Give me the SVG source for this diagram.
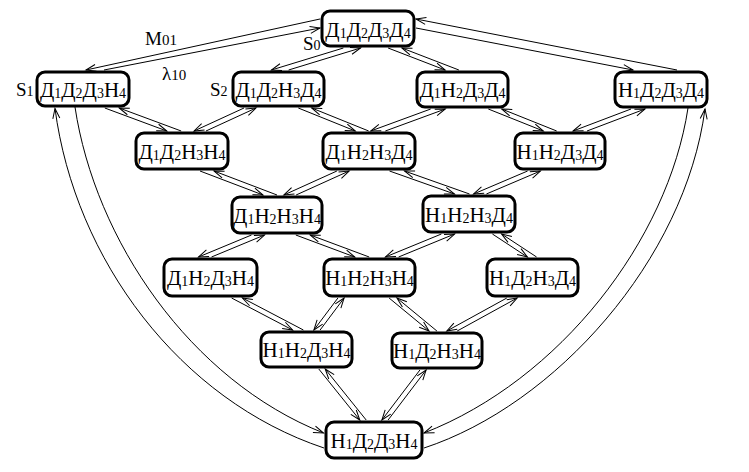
<svg xmlns="http://www.w3.org/2000/svg" width="749" height="472" viewBox="0 0 749 472">
<defs>
<marker id="ah" markerWidth="14" markerHeight="10" refX="0" refY="0" viewBox="-12 -5 14 10" orient="auto" markerUnits="userSpaceOnUse">
<path d="M-10,-3.5 L0,0 L-10,3.5" fill="none" stroke="#000" stroke-width="1"/>
</marker>
</defs>
<style>
.e{stroke:#000;stroke-width:1;fill:none;marker-end:url(#ah)}
.box{fill:#fff;stroke:#000;stroke-width:3}
.t{font-family:"Liberation Serif","Times New Roman",serif;font-size:21px;fill:#000;text-anchor:middle}
.s{font-size:14px}
.lb{font-family:"Liberation Serif","Times New Roman",serif;font-size:19px;fill:#000}
</style>
<rect width="749" height="472" fill="#fff"/>
<g id="connectors">
<line class="e" x1="320" y1="19" x2="86" y2="70"/>
<line class="e" x1="104" y1="70" x2="320" y2="28"/>
<line class="e" x1="677" y1="70" x2="416" y2="19"/>
<line class="e" x1="416" y1="28" x2="633" y2="70"/>
<line class="e" x1="343.4" y1="48" x2="271.4" y2="70"/>
<line class="e" x1="288.6" y1="70" x2="360.6" y2="48"/>
<line class="e" x1="388.1" y1="48" x2="445.1" y2="70"/>
<line class="e" x1="458.9" y1="70" x2="401.9" y2="48"/>
<line class="e" x1="104.8" y1="108" x2="166.8" y2="131"/>
<line class="e" x1="181.2" y1="131" x2="119.2" y2="108"/>
<line class="e" x1="244" y1="108" x2="194" y2="131"/>
<line class="e" x1="206" y1="131" x2="256" y2="108"/>
<line class="e" x1="298.3" y1="108" x2="355.3" y2="131"/>
<line class="e" x1="368.7" y1="131" x2="311.7" y2="108"/>
<line class="e" x1="430.7" y1="109" x2="370.7" y2="131"/>
<line class="e" x1="385.3" y1="131" x2="445.3" y2="109"/>
<line class="e" x1="488.3" y1="109" x2="543.3" y2="131"/>
<line class="e" x1="556.7" y1="131" x2="501.7" y2="109"/>
<line class="e" x1="631" y1="109" x2="573" y2="131"/>
<line class="e" x1="587" y1="131" x2="645" y2="109"/>
<line class="e" x1="200" y1="171" x2="263" y2="195"/>
<line class="e" x1="277" y1="195" x2="214" y2="171"/>
<line class="e" x1="336.9" y1="171" x2="283.9" y2="195"/>
<line class="e" x1="296.1" y1="195" x2="349.1" y2="171"/>
<line class="e" x1="389.5" y1="171" x2="454.5" y2="194"/>
<line class="e" x1="469.5" y1="194" x2="404.5" y2="171"/>
<line class="e" x1="527.6" y1="171" x2="473.6" y2="194"/>
<line class="e" x1="486.4" y1="194" x2="540.4" y2="171"/>
<line class="e" x1="251.5" y1="235" x2="198.5" y2="257"/>
<line class="e" x1="211.5" y1="257" x2="264.5" y2="235"/>
<line class="e" x1="295.8" y1="235" x2="354.8" y2="257"/>
<line class="e" x1="369.2" y1="257" x2="310.2" y2="235"/>
<line class="e" x1="441.4" y1="234" x2="385.4" y2="257"/>
<line class="e" x1="398.6" y1="257" x2="454.6" y2="234"/>
<line class="e" x1="492.4" y1="234" x2="527.4" y2="257"/>
<line class="e" x1="536.6" y1="257" x2="501.6" y2="234"/>
<line class="e" x1="231.6" y1="298" x2="292.6" y2="330"/>
<line class="e" x1="303.4" y1="330" x2="242.4" y2="298"/>
<line class="e" x1="337.9" y1="298" x2="313.9" y2="330"/>
<line class="e" x1="320.1" y1="330" x2="344.1" y2="298"/>
<line class="e" x1="389.1" y1="298" x2="429.1" y2="331"/>
<line class="e" x1="436.9" y1="331" x2="396.9" y2="298"/>
<line class="e" x1="506.8" y1="298" x2="446.8" y2="331"/>
<line class="e" x1="457.2" y1="331" x2="517.2" y2="298"/>
<line class="e" x1="318.8" y1="369" x2="359.8" y2="420"/>
<line class="e" x1="366.2" y1="420" x2="325.2" y2="369"/>
<line class="e" x1="419.9" y1="370" x2="381.9" y2="420"/>
<line class="e" x1="388.1" y1="420" x2="426.1" y2="370"/>
<path class="e" d="M324,448 C180,400 75,260 55,108.5"/>
<path class="e" d="M75,107 C95,240 190,380 323.5,433"/>
<path class="e" d="M688,108 C668,240 560,380 424,433"/>
<path class="e" d="M424,448 C555,405 685,260 705,109"/>
</g>
<g id="labels">
<text class="lb" x="145" y="45">M<tspan font-size="15">01</tspan></text>
<text class="lb" x="162" y="80">λ<tspan font-size="15">10</tspan></text>
<text class="lb" x="303" y="50" font-size="18">S<tspan font-size="14">0</tspan></text>
<text class="lb" x="16" y="96" font-size="18">S<tspan font-size="14">1</tspan></text>
<text class="lb" x="210" y="96" font-size="18">S<tspan font-size="14">2</tspan></text>
</g>
<g id="n0"><rect class="box" x="322" y="11" width="92" height="35" rx="8"/><text class="t" x="368" y="37">Д<tspan class="s" dy="1">1</tspan><tspan dy="-1">Д</tspan><tspan class="s" dy="1">2</tspan><tspan dy="-1">Д</tspan><tspan class="s" dy="1">3</tspan><tspan dy="-1">Д</tspan><tspan class="s" dy="1">4</tspan></text></g>
<g id="n1"><rect class="box" x="37" y="72" width="92" height="34" rx="8"/><text class="t" x="83" y="97">Д<tspan class="s" dy="1">1</tspan><tspan dy="-1">Д</tspan><tspan class="s" dy="1">2</tspan><tspan dy="-1">Д</tspan><tspan class="s" dy="1">3</tspan><tspan dy="-1">Н</tspan><tspan class="s" dy="1">4</tspan></text></g>
<g id="n2"><rect class="box" x="233" y="72" width="91" height="34" rx="8"/><text class="t" x="278.5" y="97">Д<tspan class="s" dy="1">1</tspan><tspan dy="-1">Д</tspan><tspan class="s" dy="1">2</tspan><tspan dy="-1">Н</tspan><tspan class="s" dy="1">3</tspan><tspan dy="-1">Д</tspan><tspan class="s" dy="1">4</tspan></text></g>
<g id="n3"><rect class="box" x="417" y="72" width="91" height="35" rx="8"/><text class="t" x="462.5" y="97">Д<tspan class="s" dy="1">1</tspan><tspan dy="-1">Н</tspan><tspan class="s" dy="1">2</tspan><tspan dy="-1">Д</tspan><tspan class="s" dy="1">3</tspan><tspan dy="-1">Д</tspan><tspan class="s" dy="1">4</tspan></text></g>
<g id="n4"><rect class="box" x="615" y="72" width="92" height="35" rx="8"/><text class="t" x="661" y="97">Н<tspan class="s" dy="1">1</tspan><tspan dy="-1">Д</tspan><tspan class="s" dy="1">2</tspan><tspan dy="-1">Д</tspan><tspan class="s" dy="1">3</tspan><tspan dy="-1">Д</tspan><tspan class="s" dy="1">4</tspan></text></g>
<g id="n5"><rect class="box" x="136" y="133" width="92" height="36" rx="8"/><text class="t" x="182" y="159">Д<tspan class="s" dy="1">1</tspan><tspan dy="-1">Д</tspan><tspan class="s" dy="1">2</tspan><tspan dy="-1">Н</tspan><tspan class="s" dy="1">3</tspan><tspan dy="-1">Н</tspan><tspan class="s" dy="1">4</tspan></text></g>
<g id="n6"><rect class="box" x="323" y="133" width="92" height="36" rx="8"/><text class="t" x="369" y="159">Д<tspan class="s" dy="1">1</tspan><tspan dy="-1">Н</tspan><tspan class="s" dy="1">2</tspan><tspan dy="-1">Н</tspan><tspan class="s" dy="1">3</tspan><tspan dy="-1">Д</tspan><tspan class="s" dy="1">4</tspan></text></g>
<g id="n7"><rect class="box" x="515" y="133" width="90" height="36" rx="8"/><text class="t" x="560" y="159">Н<tspan class="s" dy="1">1</tspan><tspan dy="-1">Н</tspan><tspan class="s" dy="1">2</tspan><tspan dy="-1">Д</tspan><tspan class="s" dy="1">3</tspan><tspan dy="-1">Д</tspan><tspan class="s" dy="1">4</tspan></text></g>
<g id="n8"><rect class="box" x="232" y="197" width="90" height="36" rx="8"/><text class="t" x="277" y="223">Д<tspan class="s" dy="1">1</tspan><tspan dy="-1">Н</tspan><tspan class="s" dy="1">2</tspan><tspan dy="-1">Н</tspan><tspan class="s" dy="1">3</tspan><tspan dy="-1">Н</tspan><tspan class="s" dy="1">4</tspan></text></g>
<g id="n9"><rect class="box" x="423" y="196" width="92" height="36" rx="8"/><text class="t" x="469" y="222">Н<tspan class="s" dy="1">1</tspan><tspan dy="-1">Н</tspan><tspan class="s" dy="1">2</tspan><tspan dy="-1">Н</tspan><tspan class="s" dy="1">3</tspan><tspan dy="-1">Д</tspan><tspan class="s" dy="1">4</tspan></text></g>
<g id="n10"><rect class="box" x="164" y="259" width="93" height="37" rx="8"/><text class="t" x="210.5" y="285">Д<tspan class="s" dy="1">1</tspan><tspan dy="-1">Н</tspan><tspan class="s" dy="1">2</tspan><tspan dy="-1">Д</tspan><tspan class="s" dy="1">3</tspan><tspan dy="-1">Н</tspan><tspan class="s" dy="1">4</tspan></text></g>
<g id="n11"><rect class="box" x="324" y="259" width="91" height="37" rx="8"/><text class="t" x="369.5" y="285">Н<tspan class="s" dy="1">1</tspan><tspan dy="-1">Н</tspan><tspan class="s" dy="1">2</tspan><tspan dy="-1">Н</tspan><tspan class="s" dy="1">3</tspan><tspan dy="-1">Н</tspan><tspan class="s" dy="1">4</tspan></text></g>
<g id="n12"><rect class="box" x="487" y="259" width="91" height="37" rx="8"/><text class="t" x="532.5" y="285">Н<tspan class="s" dy="1">1</tspan><tspan dy="-1">Д</tspan><tspan class="s" dy="1">2</tspan><tspan dy="-1">Н</tspan><tspan class="s" dy="1">3</tspan><tspan dy="-1">Д</tspan><tspan class="s" dy="1">4</tspan></text></g>
<g id="n13"><rect class="box" x="261" y="332" width="91" height="35" rx="8"/><text class="t" x="306.5" y="357">Н<tspan class="s" dy="1">1</tspan><tspan dy="-1">Н</tspan><tspan class="s" dy="1">2</tspan><tspan dy="-1">Д</tspan><tspan class="s" dy="1">3</tspan><tspan dy="-1">Н</tspan><tspan class="s" dy="1">4</tspan></text></g>
<g id="n14"><rect class="box" x="392" y="333" width="90" height="35" rx="8"/><text class="t" x="437" y="358">Н<tspan class="s" dy="1">1</tspan><tspan dy="-1">Д</tspan><tspan class="s" dy="1">2</tspan><tspan dy="-1">Н</tspan><tspan class="s" dy="1">3</tspan><tspan dy="-1">Н</tspan><tspan class="s" dy="1">4</tspan></text></g>
<g id="n15"><rect class="box" x="326" y="422" width="96" height="36" rx="8"/><text class="t" x="374" y="448">Н<tspan class="s" dy="1">1</tspan><tspan dy="-1">Д</tspan><tspan class="s" dy="1">2</tspan><tspan dy="-1">Д</tspan><tspan class="s" dy="1">3</tspan><tspan dy="-1">Н</tspan><tspan class="s" dy="1">4</tspan></text></g>
</svg>
